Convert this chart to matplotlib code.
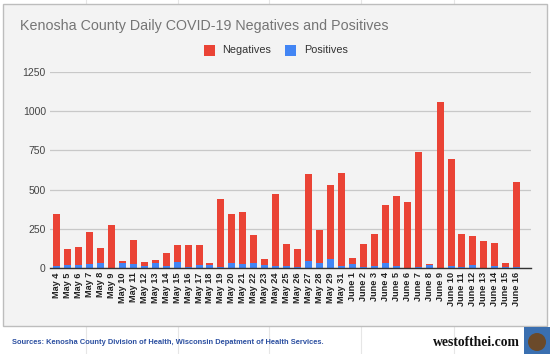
import numpy as np
import matplotlib.pyplot as plt
from matplotlib.patches import Rectangle, Ellipse

# ── Data ──────────────────────────────────────────────────────────────────────
dates = (["May %d" % d for d in range(4, 30)] + ["May 31"]
         + ["June %d" % d for d in range(1, 17)])

negatives = [330, 104, 117, 209, 95, 269, 15, 148, 23, 19, 85, 105, 139, 128,
             13, 436, 311, 336, 180, 43, 457, 143, 114, 553, 210, 473, 595,
             41, 147, 202, 374, 446, 418, 736, 6, 1055, 684, 209, 189, 167,
             147, 26, 541]
positives = [13, 17, 17, 23, 30, 3, 30, 28, 15, 30, 13, 40, 6, 17,
             21, 6, 32, 23, 30, 17, 13, 10, 5, 45, 30, 57, 13,
             23, 6, 13, 30, 13, 3, 6, 17, 2, 13, 6, 17, 3,
             13, 6, 6]
y_ticks = [0, 250, 500, 750, 1000, 1250]

RED = "#ea4335"
BLUE = "#4285f4"
BG = "#f3f3f3"

W, H = 550, 354
fig = plt.figure(figsize=(5.5, 3.54), dpi=100)
fig.patch.set_facecolor("white")

# spreadsheet grid behind the chart box
for gx in [86, 178, 269, 361, 454]:
    fig.add_artist(plt.Line2D([gx / W, gx / W], [0, 1], color="#e6e6e6",
                              lw=0.8, zorder=-2))

# chart box
fig.add_artist(Rectangle((3 / W, 1 - 326 / H), 544 / W, 322 / H,
                         facecolor=BG, edgecolor="#bdbdbd", lw=1.0, zorder=-1))

ax = fig.add_axes([50 / W, 1 - 268 / H, 481 / W, 196 / H])
ax.set_zorder(2)
ax.set_facecolor(BG)
x = np.arange(len(dates))
ax.bar(x, positives, width=0.64, color=BLUE, zorder=3)
ax.bar(x, negatives, bottom=positives, width=0.64, color=RED, zorder=3)

ax.set_xlim(-0.6, len(dates) + 0.3)
ax.set_ylim(0, 1250)
ax.set_yticks(y_ticks)
ax.set_yticklabels([str(t) for t in y_ticks], fontsize=7.5, color="#444444",
                   family="Liberation Sans")
ax.yaxis.grid(True, color="#c8c8c8", lw=0.9)
ax.set_axisbelow(True)
ax.set_xticks(x)
ax.set_xticklabels(dates, rotation=90, fontsize=6.6, fontweight="bold",
                   color="#222222", family="Liberation Sans")
ax.tick_params(axis="both", length=0, pad=3)
for s in ["top", "right", "left"]:
    ax.spines[s].set_visible(False)
ax.spines["bottom"].set_color("#333333")
ax.spines["bottom"].set_linewidth(1.0)
ax.spines["bottom"].set_zorder(4)

# title
fig.text(20 / W, 1 - 26 / H, "Kenosha County Daily COVID-19 Negatives and Positives",
         fontsize=10.3, color="#757575", family="Liberation Sans", va="center")

# legend
for sx, tx, col, lab in [(203.5, 222, RED, "Negatives"), (285, 304, BLUE, "Positives")]:
    fig.add_artist(Rectangle((sx / W, 1 - 55.5 / H), 11 / W, 11 / H,
                             facecolor=col, edgecolor="none"))
    fig.text(tx / W, 1 - 50 / H, lab, fontsize=7.8, color="#333333",
             family="Liberation Sans", va="center")

# footer
fig.text(12 / W, 1 - 343 / H,
         "Sources: Kenosha County Division of Health, Wisconsin Depatment of Health Services.",
         fontsize=5.4, fontweight="bold", color="#2a4ea0", family="Liberation Sans",
         va="center")
fig.text(520 / W, 1 - 342 / H, "westofthei.com", fontsize=9.8, fontweight="bold",
         color="#111111", family="Liberation Serif", ha="right", va="center")
fig.add_artist(Rectangle((524 / W, 0), 26 / W, 27 / H, facecolor="#3a6fb0",
                         edgecolor="none"))
fig.add_artist(Ellipse((537 / W, 12 / H), 18 / W, 18 / H, facecolor="#6b4a2a",
                       edgecolor="none"))

fig.savefig("out.png", dpi=100, facecolor="white")
